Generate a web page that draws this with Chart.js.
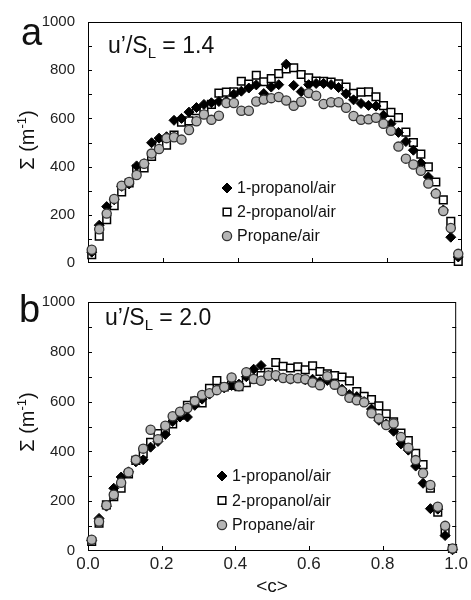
<!DOCTYPE html>
<html>
<head>
<meta charset="utf-8">
<script src="https://cdn.jsdelivr.net/npm/chart.js@4.4.1/dist/chart.umd.min.js"></script>
<style>
  html, body { margin: 0; padding: 0; background: #fff; }
  #wrap { position: relative; width: 471px; height: 600px; font-family: "Liberation Sans", Arial, sans-serif; color: #111; }
  canvas { position: absolute; left: 0; }
  .lbl { position: absolute; white-space: nowrap; line-height: 1; }
  .panel { font-size: 38px; }
  .cond { font-size: 23px; }
  .cond span { font-size: 15px; position: relative; top: 5px; }
  .ytitle { font-size: 20px; transform: translate(-50%, -50%) rotate(-90deg); }
  .ytitle sup { font-size: 13px; position: relative; top: -2px; vertical-align: top; }
</style>
</head>
<body>
<div id="wrap">
  <canvas id="topChart" width="471" height="285" style="top:0px"></canvas>
  <canvas id="botChart" width="471" height="320" style="top:280px"></canvas>
  <div class="lbl panel" style="left:21px;top:13px">a</div>
  <div class="lbl panel" style="left:19px;top:290px">b</div>
  <div class="lbl cond" style="left:108px;top:34px">u’/S<span>L</span> = 1.4</div>
  <div class="lbl cond" style="left:105px;top:306px">u’/S<span>L</span> = 2.0</div>
  <div class="lbl ytitle" style="left:27px;top:140px">Σ (m<sup>-1</sup>)</div>
  <div class="lbl ytitle" style="left:27px;top:422px">Σ (m<sup>-1</sup>)</div>
</div>
<script>
// progress variable <c> sampled at the bin centres
const cVals = [0.01, 0.03, 0.05, 0.07, 0.09, 0.11, 0.13, 0.15, 0.17, 0.19,
               0.21, 0.23, 0.25, 0.27, 0.29, 0.31, 0.33, 0.35, 0.37, 0.39,
               0.41, 0.43, 0.45, 0.47, 0.49, 0.51, 0.53, 0.55, 0.57, 0.59,
               0.61, 0.63, 0.65, 0.67, 0.69, 0.71, 0.73, 0.75, 0.77, 0.79,
               0.81, 0.83, 0.85, 0.87, 0.89, 0.91, 0.93, 0.95, 0.97, 0.99];

const seriesNames = ['1-propanol/air', '2-propanol/air', 'Propane/air'];

// panel a: u'/SL = 1.4
const topPropanol1 = [45, 157, 234, 262, 318, 328, 403, 412, 499, 518,
                      524, 592, 600, 626, 645, 658, 665, 670, 672, 700,
                      713, 726, 739, 703, 730, 740, 825, 737, 711, 740,
                      745, 745, 740, 728, 702, 677, 662, 654, 651, 613,
                      578, 542, 504, 468, 415, 357, 290, 220, 107, 25];
const topPropanol2 = [34, 111, 180, 238, 295, 332, 390, 394, 442, 490,
                      489, 531, 584, 590, 632, 640, 658, 705, 709, 710,
                      754, 742, 779, 752, 765, 786, 805, 810, 782, 768,
                      755, 754, 751, 744, 730, 704, 709, 710, 690, 653,
                      625, 603, 543, 500, 452, 399, 336, 262, 173, 7];
const topPropane   = [55, 140, 205, 266, 321, 336, 365, 412, 454, 473,
                      518, 522, 512, 552, 588, 616, 594, 611, 664, 664,
                      632, 632, 670, 678, 684, 689, 674, 652, 669, 705,
                      694, 660, 667, 667, 644, 610, 594, 596, 603, 578,
                      549, 483, 433, 409, 383, 330, 288, 216, 145, 38];

// panel b: u'/SL = 2.0
const botPropanol1 = [42, 131, 180, 252, 297, 318, 358, 366, 417, 440,
                      468, 520, 538, 538, 585, 610, 630, 650, 655, 665,
                      670, 700, 730, 745, 705, 700, 695, 690, 695, 688,
                      690, 680, 685, 670, 650, 628, 620, 600, 570, 525,
                      510, 481, 430, 405, 341, 272, 170, 168, 62, 5];
const botPropanol2 = [38, 112, 185, 218, 252, 310, 364, 392, 436, 472,
                      484, 510, 545, 585, 602, 595, 653, 684, 659, 665,
                      660, 676, 690, 705, 718, 757, 742, 735, 740, 728,
                      744, 721, 712, 705, 699, 683, 640, 621, 608, 583,
                      551, 519, 474, 443, 392, 347, 252, 156, 74, 10];
const botPropane   = [45, 118, 184, 226, 274, 316, 366, 411, 487, 449,
                      503, 541, 559, 574, 602, 627, 634, 646, 659, 697,
                      662, 718, 691, 684, 705, 706, 695, 692, 694, 690,
                      677, 666, 702, 668, 643, 615, 605, 597, 553, 532,
                      506, 512, 458, 415, 365, 312, 265, 178, 101, 10];

const xTicks = [0, 0.2, 0.4, 0.6, 0.8, 1.0];
const yTicks = [0, 200, 400, 600, 800, 1000];

const FONT = '"Liberation Sans", Arial, sans-serif';

const styles = [
  { pointStyle: 'rectRot', pointRadius: 5, backgroundColor: '#000', borderColor: '#000', borderWidth: 1, order: 1 },
  { pointStyle: 'rect', pointRadius: 5.4, backgroundColor: '#fff', borderColor: '#000', borderWidth: 1.5, order: 2 },
  { pointStyle: 'circle', pointRadius: 4.6, backgroundColor: '#b5b5b5', borderColor: '#333', borderWidth: 1.3, order: 0 }
];

function makeDatasets(series) {
  return series.map((vals, k) => ({
    label: seriesNames[k],
    data: cVals.map((c, i) => ({ x: c, y: vals[i] })),
    pointStyle: styles[k].pointStyle,
    pointRadius: styles[k].pointRadius,
    pointHoverRadius: styles[k].pointRadius,
    pointBackgroundColor: styles[k].backgroundColor,
    pointBorderColor: styles[k].borderColor,
    pointBorderWidth: styles[k].borderWidth,
    showLine: false,
    clip: false,
    order: styles[k].order
  }));
}

function marker(ctx, style, x, y) {
  const r = style.pointRadius;
  ctx.save();
  ctx.fillStyle = style.backgroundColor;
  ctx.strokeStyle = style.borderColor;
  ctx.lineWidth = style.borderWidth;
  ctx.beginPath();
  if (style.pointStyle === 'rectRot') {
    ctx.moveTo(x, y - r); ctx.lineTo(x + r, y); ctx.lineTo(x, y + r); ctx.lineTo(x - r, y); ctx.closePath();
  } else if (style.pointStyle === 'rect') {
    const h = r * Math.SQRT1_2;
    ctx.rect(x - h, y - h, 2 * h, 2 * h);
  } else {
    ctx.arc(x, y, r, 0, Math.PI * 2);
  }
  ctx.fill();
  ctx.stroke();
  ctx.restore();
}

// box around the plot, inward tick marks and the legend
const framePlugin = {
  id: 'frame',
  beforeDatasetsDraw(chart) {
    const { ctx, chartArea: a, scales } = chart;
    ctx.save();
    ctx.strokeStyle = '#000';
    ctx.lineWidth = 1;
    ctx.strokeRect(a.left + 0.5, a.top + 0.5, a.right - a.left - 1, a.bottom - a.top - 1);
    ctx.beginPath();
    for (let v = 100; v < 1000; v += 100) {
      const y = Math.round(scales.y.getPixelForValue(v)) + 0.5;
      ctx.moveTo(a.left, y); ctx.lineTo(a.left + 4, y);
      ctx.moveTo(a.right, y); ctx.lineTo(a.right - 4, y);
    }
    xTicks.slice(1, -1).forEach(v => {
      const x = Math.round(scales.x.getPixelForValue(v)) + 0.5;
      ctx.moveTo(x, a.bottom); ctx.lineTo(x, a.bottom - 5);
    });
    ctx.stroke();
    ctx.restore();
  },
  afterDraw(chart, args, opts) {
    const ctx = chart.ctx;
    ctx.save();
    ctx.font = '16px ' + FONT;
    ctx.fillStyle = '#111';
    ctx.textBaseline = 'middle';
    seriesNames.forEach((name, k) => {
      const y = opts.y + k * opts.dy;
      marker(ctx, styles[k], opts.x, y);
      ctx.fillText(name, opts.x + 10, y + 1);
    });
    ctx.restore();
  }
};

function yScale() {
  return {
    min: 0, max: 1000,
    afterBuildTicks: s => { s.ticks = yTicks.map(v => ({ value: v })); },
    ticks: { font: { size: 15, family: FONT }, color: '#222', padding: 13, callback: v => String(v) },
    grid: { display: false, drawTicks: false },
    border: { display: false },
    afterFit: s => { s.width = 88; }
  };
}

const common = {
  responsive: false,
  animation: false,
  events: [],
  plugins: { legend: { display: false }, tooltip: { enabled: false } }
};

new Chart(document.getElementById('topChart'), {
  type: 'scatter',
  data: { datasets: makeDatasets([topPropanol1, topPropanol2, topPropane]) },
  options: {
    ...common,
    layout: { padding: { left: 0, right: 9, top: 12, bottom: 11 } },
    plugins: { ...common.plugins, frame: { x: 227, y: 188, dy: 24 } },
    scales: {
      x: { type: 'linear', min: 0, max: 1, display: false },
      y: yScale()
    }
  },
  plugins: [framePlugin]
});

new Chart(document.getElementById('botChart'), {
  type: 'scatter',
  data: { datasets: makeDatasets([botPropanol1, botPropanol2, botPropane]) },
  options: {
    ...common,
    layout: { padding: { left: 0, right: 9, top: 9, bottom: 0 } },
    plugins: { ...common.plugins, frame: { x: 222, y: 196, dy: 24.5 } },
    scales: {
      x: {
        type: 'linear', min: 0, max: 1,
        afterBuildTicks: s => { s.ticks = xTicks.map(v => ({ value: v })); },
        ticks: { font: { size: 17, family: FONT }, color: '#222', padding: 3, callback: v => v.toFixed(1) },
        grid: { display: false, drawTicks: false },
        border: { display: false },
        title: { display: true, text: '<c>', font: { size: 19, family: FONT }, color: '#111', padding: { top: 0, bottom: 2 } },
        afterFit: s => { s.height = 49; }
      },
      y: yScale()
    }
  },
  plugins: [framePlugin]
});
</script>
</body>
</html>
